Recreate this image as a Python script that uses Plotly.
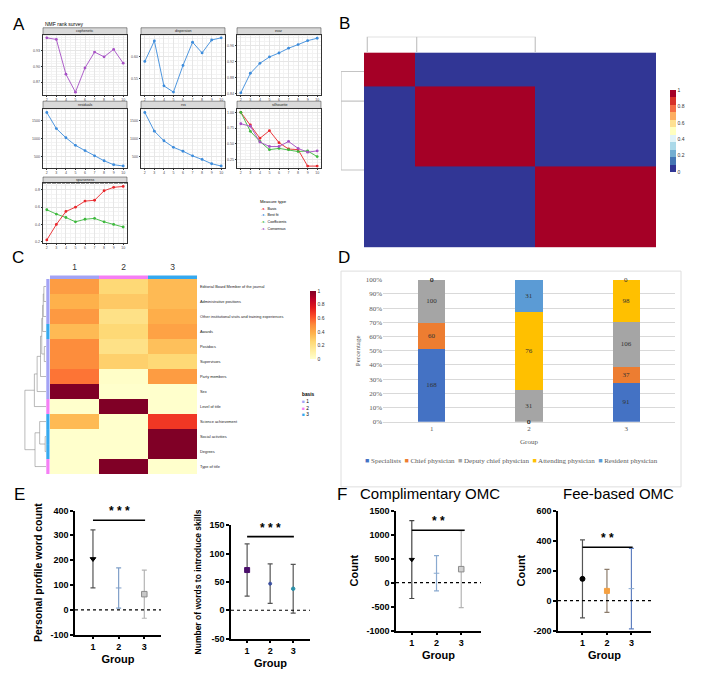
import numpy as np
import plotly.graph_objects as go

W, H = 708, 674
SANS = "Liberation Sans"
SERIF = "Liberation Serif"

# ---------------- data ----------------
# A: NMF rank survey
ranks = [2, 3, 4, 5, 6, 7, 8, 9, 10]
cophenetic = [0.954, 0.951, 0.885, 0.851, 0.897, 0.927, 0.918, 0.932, 0.906]
dispersion = [0.589, 0.635, 0.534, 0.520, 0.580, 0.632, 0.608, 0.637, 0.642]
evar = [0.842, 0.891, 0.916, 0.932, 0.942, 0.954, 0.963, 0.973, 0.979]
residuals = [1729, 1280, 1023, 812, 665, 518, 381, 271, 234]
rss = [1729, 1206, 940, 757, 647, 518, 417, 298, 234]
silhouette_basis = [1.00, 0.80, 0.59, 0.71, 0.52, 0.42, 0.41, 0.15, 0.15]
silhouette_coef = [1.00, 0.70, 0.54, 0.41, 0.43, 0.41, 0.38, 0.39, 0.30]
silhouette_cons = [0.82, 0.78, 0.53, 0.46, 0.46, 0.54, 0.43, 0.37, 0.39]
sparseness_basis = [0.22, 0.40, 0.55, 0.60, 0.67, 0.68, 0.79, 0.83, 0.84]
sparseness_coef = [0.57, 0.52, 0.48, 0.43, 0.46, 0.47, 0.43, 0.40, 0.37]
measure_types = ["Basis", "Best fit", "Coefficients", "Consensus"]

# B: consensus matrix
b_cluster_sizes = [138, 328, 332]
b_consensus = [[1, 0, 0], [0, 1, 0], [0, 0, 1]]
b_col_leaves = [9, 144, 468]
b_row_leaves = [78, 199, 481]

# C: basis heatmap
c_features = ["Editorial Board Member of the journal", "Administrative positions",
              "Other institutional visits and training experiences", "Awards", "Postdocs",
              "Supervisors", "Party members", "Sex", "Level of title", "Science achievement",
              "Social activities", "Degrees", "Type of title"]
c_basis = [1, 1, 1, 3, 1, 1, 1, 1, 2, 3, 3, 3, 2]
c_values = [[0.45, 0.25, 0.35], [0.38, 0.30, 0.35], [0.46, 0.20, 0.39], [0.35, 0.25, 0.43],
            [0.50, 0.20, 0.33], [0.50, 0.28, 0.25], [0.55, 0.01, 0.45], [1.00, 0.00, 0.00],
            [0.00, 1.00, 0.00], [0.35, 0.00, 0.68], [0.00, 0.00, 1.00], [0.00, 0.00, 1.00],
            [0.00, 1.00, 0.00]]
# (left, right, height) merges, new clusters numbered from 13
c_links = [(0, 1, 0.10), (2, 13, 0.13), (3, 14, 0.16), (4, 5, 0.08), (15, 16, 0.20),
           (6, 17, 0.26), (7, 18, 0.42), (8, 19, 0.55), (10, 11, 0.04), (9, 21, 0.30),
           (12, 22, 0.52), (20, 23, 1.00)]

# D: title composition
d_groups = ["1", "2", "3"]
specialists = [168, 0, 91]
chief_physician = [60, 0, 37]
deputy_chief_physician = [100, 31, 106]
attending_physician = [0, 76, 98]
resident_physician = [0, 31, 0]

# E / F: mean +- SD
groups = [1, 2, 3]
profile_mean = [205, 88, 63]
profile_sd = [117, 81, 97]
skills_mean = [71, 47, 38]
skills_sd = [46, 35, 43]
free_mean = [480, 195, 280]
free_sd = [810, 365, 800]
fee_mean = [145, 65, 80]
fee_sd = [260, 143, 268]
sig_profile, sig_skills, sig_free, sig_fee = 361, 130, 1090, 355

# ---------------- helpers ----------------
fig = go.Figure()
axes = {}
shapes = []
annos = []
cnt = [0]


def add_axes(x0, x1, y0, y1, xopt, yopt):
    cnt[0] += 1
    s = "" if cnt[0] == 1 else str(cnt[0])
    axes["xaxis" + s] = dict(domain=[x0 / W, x1 / W], anchor="y" + s, **xopt)
    axes["yaxis" + s] = dict(domain=[1 - y1 / H, 1 - y0 / H], anchor="x" + s, **yopt)
    return "x" + s, "y" + s


def text(x, y, t, size, family=SANS, color="black", xanchor="left", **kw):
    annos.append(dict(x=x / W, y=1 - y / H, xref="paper", yref="paper", text=t,
                      showarrow=False, xanchor=xanchor, yanchor="middle",
                      font=dict(family=family, size=size, color=color), **kw))


def rect(x0, x1, y0, y1, fill, line="rgba(0,0,0,0)", lw=0):
    shapes.append(dict(type="rect", xref="paper", yref="paper", x0=x0 / W, x1=x1 / W,
                       y0=1 - y1 / H, y1=1 - y0 / H, fillcolor=fill,
                       line=dict(color=line, width=lw), layer="below"))


# ---------------- A ----------------
mcol = {"Basis": "#e8262a", "Best fit": "#3b8bdb", "Coefficients": "#3cb83c", "Consensus": "#a54fc4"}
cols = [(35, 119), (133, 217), (229, 313)]
rows = [(15, 22, 83), (89.5, 97, 157), (166.5, 173, 233)]
facets = [
    ("cophenetic", 0, 0, [("Consensus", cophenetic)], [0.846, 0.960], [0.87, 0.90, 0.93], "%.2f"),
    ("dispersion", 0, 1, [("Best fit", dispersion)], [0.514, 0.649], [0.55, 0.60], "%.2f"),
    ("evar", 0, 2, [("Best fit", evar)], [0.837, 0.988], [0.84, 0.88, 0.92, 0.96], "%.2f"),
    ("residuals", 1, 0, [("Best fit", residuals)], [188, 1839], [500, 1000, 1500], "%d"),
    ("rss", 1, 1, [("Best fit", rss)], [188, 1839], [500, 1000, 1500], "%d"),
    ("silhouette", 1, 2, [("Basis", silhouette_basis), ("Coefficients", silhouette_coef),
                          ("Consensus", silhouette_cons)], [0.125, 1.06], [0.25, 0.5, 0.75, 1.0], "%.2f"),
    ("sparseness", 2, 0, [("Coefficients", sparseness_coef), ("Basis", sparseness_basis)],
     [0.19, 0.875], [0.2, 0.4, 0.6, 0.8], "%.1f"),
]
for name, r, c, series, yr, yt, fmt in facets:
    sy0, py0, py1 = rows[r]
    px0, px1 = cols[c]
    common = dict(showline=True, mirror=True, linecolor="#333333", linewidth=0.5,
                  ticks="outside", ticklen=1.5, tickwidth=0.5, tickcolor="#333333",
                  tickfont=dict(family=SANS, size=3.6, color="#4d4d4d"),
                  showgrid=True, gridcolor="#e6e6e6", gridwidth=0.5, zeroline=False)
    xa, ya = add_axes(px0, px1, py0, py1,
                      dict(range=[1.6, 10.4], tickmode="linear", tick0=2, dtick=1,
                           minor=dict(showgrid=True, gridcolor="#f3f3f3", dtick=0.5, tick0=2), **common),
                      dict(range=yr, tickvals=yt, ticktext=[fmt % v for v in yt],
                           minor=dict(showgrid=True, gridcolor="#f3f3f3"), **common))
    for mt, vals in series:
        fig.add_trace(go.Scatter(x=ranks, y=vals, mode="lines+markers", xaxis=xa, yaxis=ya,
                                 line=dict(color=mcol[mt], width=0.9),
                                 marker=dict(color=mcol[mt], size=2.8), showlegend=False))
    rect(px0, px1, sy0, py0, "#d9d9d9", "#333333", 0.5)
    text((px0 + px1) / 2, (sy0 + py0) / 2, name, 3.6, xanchor="center", color="#1a1a1a")

text(35, 11, "NMF rank survey", 5)
text(250, 191, "Measure type", 4.3)
for i, mt in enumerate(measure_types):
    text(251, 198.5 + i * 7, "<span style='color:%s'>-●-</span>  %s" % (mcol[mt], mt), 3.6)

# ---------------- B ----------------
rdylbu = ["#313695", "#4575b4", "#74add1", "#abd9e9", "#e0f3f8", "#ffffbf",
          "#fee090", "#fdae61", "#f46d43", "#d73027", "#a50026"]
b_scale = []
for i, cc in enumerate(rdylbu):
    b_scale += [[i / len(rdylbu), cc], [(i + 1) / len(rdylbu), cc]]
b_edges = np.concatenate([[0], np.cumsum(b_cluster_sizes)])
total_b = float(b_edges[-1])
hidden = dict(showticklabels=False, showgrid=False, zeroline=False, showline=False, ticks="")
xa, ya = add_axes(356, 648, 40, 238, dict(range=[0, total_b], **hidden),
                  dict(range=[total_b, 0], **hidden))
fig.add_trace(go.Heatmap(x=b_edges, y=b_edges, z=b_consensus, coloraxis="coloraxis",
                         xaxis=xa, yaxis=ya, hoverinfo="skip"))
xa, ya = add_axes(356, 648, 24, 40, dict(range=[0, total_b], **hidden), dict(range=[0, 1], **hidden))
l0, l1, l2 = b_col_leaves
fig.add_trace(go.Scatter(x=[l0, l0, l2, l2, None, l1, l1], y=[0, 1, 1, 0, None, 1, 0],
                         mode="lines", line=dict(color="#c4c4c4", width=1.2), xaxis=xa, yaxis=ya))
xa, ya = add_axes(333, 356, 40, 238, dict(range=[1, 0], **hidden), dict(range=[total_b, 0], **hidden))
r0, r1, r2 = b_row_leaves
fig.add_trace(go.Scatter(x=[0, 1, 1, 0, None, 0, 1], y=[r0, r0, r2, r2, None, r1, r1],
                         mode="lines", line=dict(color="#c4c4c4", width=1.2), xaxis=xa, yaxis=ya))

# ---------------- C ----------------
basis_col = {1: "#a3a3f5", 2: "#f57ff5", 3: "#36a9ef"}
nr = len(c_features)
xa_c, ya_c = add_axes(42, 189, 270, 468,
                      dict(range=[-0.5, 2.5], tickvals=[0, 1, 2], ticktext=["1", "2", "3"], side="top",
                           ticks="", ticklabelstandoff=6, showgrid=False, zeroline=False,
                           tickfont=dict(family=SANS, size=8.5, color="#333333")),
                      dict(range=[nr - 0.5, -0.5], tickvals=list(range(nr)), ticktext=c_features,
                           side="right", ticks="", ticklabelstandoff=2, showgrid=False, zeroline=False,
                           tickfont=dict(family=SANS, size=3.9, color="#222222")))
fig.add_trace(go.Heatmap(z=c_values, x=[0, 1, 2], y=list(range(nr)), coloraxis="coloraxis2",
                         xaxis=xa_c, yaxis=ya_c, hoverinfo="skip"))
for j in range(3):
    shapes.append(dict(type="rect", xref=xa_c, yref="paper", x0=j - 0.5, x1=j + 0.5,
                       y0=1 - 270 / H, y1=1 - 266.5 / H, fillcolor=basis_col[j + 1], line=dict(width=0)))
for i, bsc in enumerate(c_basis):
    shapes.append(dict(type="rect", xref="paper", yref=ya_c, x0=38.3 / W, x1=41.5 / W,
                       y0=i - 0.5, y1=i + 0.5, fillcolor=basis_col[bsc], line=dict(width=0)))
pos = {i: (float(i), 0.0) for i in range(nr)}
dxs, dys = [], []
for k, (a, b, h) in enumerate(c_links):
    ya_, ha = pos[a]
    yb_, hb = pos[b]
    dxs += [ha, h, h, hb, None]
    dys += [ya_, ya_, yb_, yb_, None]
    pos[nr + k] = ((ya_ + yb_) / 2, h)
xa, ya = add_axes(15, 38, 270, 468, dict(range=[1.09, 0], **hidden),
                  dict(range=[nr - 0.5, -0.5], **hidden))
fig.add_trace(go.Scatter(x=dxs, y=dys, mode="lines", line=dict(color="#8c8c8c", width=0.6),
                         xaxis=xa, yaxis=ya))
text(292, 387, "<b>basis</b>", 4.8)
for i in (1, 2, 3):
    text(292, 387 + 7 * i, "<span style='color:%s'>■</span> %d" % (basis_col[i], i), 4.8)

# ---------------- D ----------------
d_series = [("Specialists", specialists, "#4472c4"), ("Chief physician", chief_physician, "#ed7d31"),
            ("Deputy chief physician", deputy_chief_physician, "#a5a5a5"),
            ("Attending physician", attending_physician, "#ffc000"),
            ("Resident physician", resident_physician, "#5b9bd5")]
totals = np.sum([s[1] for s in d_series], axis=0)
serif_grey = dict(family=SERIF, size=7, color="#595959")
xa_d, ya_d = add_axes(375, 667, 270.7, 415,
                      dict(type="category", range=[-0.5, 2.5], showline=True, linecolor="#d9d9d9",
                           ticks="", showgrid=False, tickfont=serif_grey,
                           title=dict(text="Group", font=serif_grey, standoff=6)),
                      dict(range=[0, 100], tickvals=list(range(0, 101, 10)),
                           ticktext=["%d%%" % v for v in range(0, 101, 10)], showgrid=True,
                           gridcolor="#d9d9d9", gridwidth=0.6, zeroline=False, ticks="",
                           tickfont=serif_grey, title=dict(text="Percentage", font=serif_grey, standoff=4)))
cum = np.zeros(3)
for name, vals, colr in d_series:
    pct = np.array(vals) / totals * 100
    fig.add_trace(go.Bar(x=d_groups, y=pct, name=name, marker=dict(color=colr, line=dict(width=0)),
                         text=[str(v) if v > 0 else "" for v in vals], textposition="inside",
                         insidetextanchor="middle", textangle=0, constraintext="none",
                         textfont=dict(family=SERIF, size=7, color="#333333"),
                         xaxis=xa_d, yaxis=ya_d, hoverinfo="skip"))
    for g, v in enumerate(vals):
        if v == 0:
            # category axis: position by index so "1" is not read as index 1
            annos.append(dict(x=g, y=cum[g], xref=xa_d, yref=ya_d, text="0", showarrow=False,
                              font=dict(family=SERIF, size=7, color="#333333")))
    cum += pct
rect(333, 673, 262, 481, "rgba(0,0,0,0)", "#dedede", 1)
leg = "&nbsp;&nbsp;".join("<span style='color:%s'>■</span> %s" % (c, n) for n, _, c in d_series)
text(503, 455, leg, 7, family=SERIF, color="#595959", xanchor="center")

# ---------------- E / F ----------------
def bold_ticks(vals):
    return ["<b>%d</b>" % v for v in vals]


def gp_panel(x0, x1, y0, y1, xr, yr, yt, ytitle, ysize, means, sds, styles, sig, star_y, sig_x1, stars):
    black = dict(family=SANS, size=9, color="black")
    base = dict(showline=True, linecolor="black", linewidth=1.5, ticks="outside", ticklen=3,
                tickwidth=1.5, tickcolor="black", showgrid=False, zeroline=False, tickfont=black)
    xa, ya = add_axes(x0, x1, y0, y1,
                      dict(range=xr, tickvals=groups, ticktext=bold_ticks(groups),
                           title=dict(text="<b>Group</b>", standoff=4,
                                      font=dict(family=SANS, size=11, color="black")), **base),
                      dict(range=yr, tickvals=yt, ticktext=bold_ticks(yt),
                           title=dict(text="<b>%s</b>" % ytitle, standoff=6,
                                      font=dict(family=SANS, size=ysize, color="black")), **base))
    for g, m, s, (sym, mc, ms, ec, lc) in zip(groups, means, sds, styles):
        fig.add_trace(go.Scatter(x=[g], y=[m], mode="markers", xaxis=xa, yaxis=ya,
                                 marker=dict(symbol=sym, color=mc, size=ms, line=dict(color=lc, width=1)),
                                 error_y=dict(type="data", array=[s], color=ec, thickness=1.2, width=2.5)))
    shapes.append(dict(type="line", xref=xa + " domain", yref=ya, x0=0, x1=1, y0=0, y1=0,
                       line=dict(color="black", width=1.2, dash="dot")))
    shapes.append(dict(type="line", xref=xa, yref=ya, x0=1, x1=sig_x1, y0=sig, y1=sig,
                       line=dict(color="black", width=1.6)))
    annos.append(dict(x=(1 + sig_x1) / 2, y=star_y, xref=xa, yref=ya, text="<b>%s</b>" % stars,
                      showarrow=False, font=dict(family=SANS, size=12, color="black")))


gp_panel(67, 153, 505, 631, [0.3, 3.65], [-100, 400], [-100, 0, 100, 200, 300, 400],
         "Personal profile word count", 10.5, profile_mean, profile_sd,
         [("triangle-down", "black", 5, "#555555", "black"),
          ("line-ew", "#7f9fc8", 4, "#7f9fc8", "#7f9fc8"),
          ("square", "#c8c8c8", 5.5, "#b4b4b4", "#8c8c8c")], sig_profile, 398, 3.03, "* * *")
gp_panel(223, 302, 520, 635, [0.3, 3.73], [-50, 150], [-50, 0, 50, 100, 150],
         "Number of words to introduce skills", 8.5, skills_mean, skills_sd,
         [("square", "#4b0f6b", 5, "#555555", "#4b0f6b"),
          ("circle", "#3a4fa0", 3, "#555555", "#3a4fa0"),
          ("circle", "#2a8fa8", 3.5, "#555555", "#2a8fa8")], sig_skills, 145, 3.03, "* * *")
gp_panel(388, 473, 505, 627, [0.36, 3.8], [-1000, 1500], [-1000, -500, 0, 500, 1000, 1500],
         "Count", 11, free_mean, free_sd,
         [("triangle-down", "black", 4.5, "#444444", "black"),
          ("line-ew", "#8aaad0", 4, "#8aaad0", "#8aaad0"),
          ("square", "#d0d0d0", 5.5, "#b4b4b4", "#8c8c8c")], sig_free, 1286, 3.14, "* *")
gp_panel(550, 643, 505, 627, [0, 3.8], [-200, 600], [-200, 0, 200, 400, 600],
         "Count", 11, fee_mean, fee_sd,
         [("circle", "black", 5, "#555555", "black"),
          ("square", "#f5a040", 5, "#8b7b6b", "#f5a040"),
          ("line-ew", "#8aaad0", 4, "#6080c0", "#8aaad0")], sig_fee, 420, 3.05, "* *")

text(422, 488, "Complimentary OMC", 15, xanchor="center")
text(610, 488, "Fee-based OMC", 15, xanchor="center")

# panel letters
for letter, lx, ly in [("A", 3, 12), ("B", 329, 11), ("C", 2, 248), ("D", 328, 248),
                       ("E", 4, 489), ("F", 327, 489)]:
    text(lx, ly, letter, 17)

fig.update_layout(
    width=W, height=H, margin=dict(l=0, r=0, t=0, b=0),
    paper_bgcolor="white", plot_bgcolor="white", showlegend=False,
    barmode="stack", bargap=0.72,
    coloraxis=dict(colorscale=b_scale, cmin=0, cmax=1,
                   colorbar=dict(x=652 / W, xanchor="left", y=1 - 68 / H, yanchor="top",
                                 len=104 / H, lenmode="fraction", thickness=6, outlinewidth=0,
                                 tickvals=[0, 0.2, 0.4, 0.6, 0.8, 1], ticktext=["0", "0.2", "0.4", "0.6", "0.8", "1"],
                                 ticks="", tickfont=dict(family=SANS, size=5, color="#333333"))),
    coloraxis2=dict(colorscale="YlOrRd", cmin=0, cmax=1,
                    colorbar=dict(x=292 / W, xanchor="left", y=1 - 272 / H, yanchor="top",
                                  len=89 / H, lenmode="fraction", thickness=6, outlinewidth=0,
                                  tickvals=[0, 0.2, 0.4, 0.6, 0.8, 1], ticktext=["0", "0.2", "0.4", "0.6", "0.8", "1"],
                                  ticks="", tickfont=dict(family=SANS, size=5, color="#333333"))),
    shapes=shapes, annotations=annos, **axes)

fig.write_html("out.html")
